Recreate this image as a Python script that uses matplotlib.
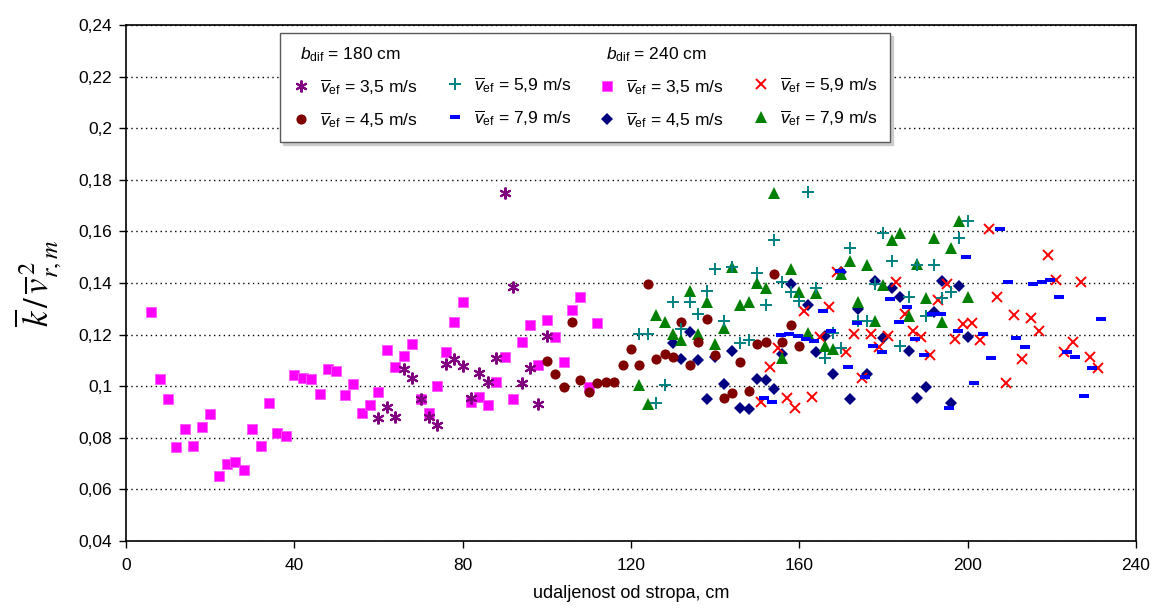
import matplotlib
matplotlib.use("Agg")
import matplotlib.pyplot as plt
import matplotlib.transforms as mtransforms
from matplotlib.lines import Line2D
from matplotlib.path import Path

plt.rcParams['font.family'] = ['Liberation Sans', 'DejaVu Sans']
plt.rcParams['mathtext.fontset'] = 'custom'
plt.rcParams['mathtext.rm'] = 'Liberation Sans'
plt.rcParams['mathtext.it'] = 'Liberation Sans:italic'
plt.rcParams['mathtext.bf'] = 'Liberation Sans:bold'

# ---- data: b_dif = 180 cm ----
x_180_35 = [60, 62, 64, 66, 68, 70, 72, 74, 76, 78, 80, 82, 84, 86, 88, 90, 92, 94, 96, 98, 100]
y_180_35 = [0.0875, 0.0918, 0.0879, 0.1066, 0.1033, 0.0950, 0.0879, 0.0850, 0.1086, 0.1105, 0.1080,
            0.0953, 0.1051, 0.1015, 0.1108, 0.1750, 0.1383, 0.1014, 0.1069, 0.0930, 0.1196]

x_180_45 = [100, 102, 104, 106, 108, 110, 112, 114, 116, 118, 120, 122, 124, 126, 128, 130,
            132, 134, 136, 138, 140, 142, 144, 146, 148, 150, 152, 154, 156, 158, 160]
y_180_45 = [0.1099, 0.1047, 0.0998, 0.1247, 0.1024, 0.0976, 0.1014, 0.1017, 0.1015, 0.1081, 0.1143,
            0.1083, 0.1395, 0.1104, 0.1126, 0.1115, 0.1250, 0.1082, 0.1170, 0.1260, 0.1121, 0.0953,
            0.0975, 0.1093, 0.0980, 0.1162, 0.1171, 0.1434, 0.1172, 0.1238, 0.1156]

x_180_59 = [122, 124, 126, 128, 130, 132, 134, 136, 138, 140, 142, 144, 146, 148, 150, 152, 154, 156,
            158, 160, 162, 164, 166, 168, 170, 172, 174, 176, 178, 180, 182, 184, 186, 188, 190, 192,
            194, 196, 198, 200]
y_180_59 = [0.1202, 0.1202, 0.0934, 0.1006, 0.1325, 0.1223, 0.1325, 0.1279, 0.1370, 0.1453, 0.1253,
            0.1461, 0.1166, 0.1179, 0.1440, 0.1316, 0.1568, 0.1404, 0.1366, 0.1329, 0.1753, 0.1379,
            0.1108, 0.1207, 0.1147, 0.1536, 0.1254, 0.1254, 0.1397, 0.1593, 0.1485, 0.1157, 0.1347,
            0.1470, 0.1273, 0.1469, 0.1342, 0.1366, 0.1573, 0.1641]

x_180_79 = [151.6, 153.6, 155.6, 157.6, 159.6, 161.6, 163.6, 165.6, 167.6, 169.6, 171.6, 173.6, 175.6,
            177.6, 179.6, 181.6, 183.6, 185.6, 187.6, 189.6, 191.6, 193.6, 195.6, 197.6, 199.6, 201.6,
            203.6, 205.6, 207.6, 209.6, 211.6, 213.6, 215.6, 217.6, 219.6, 221.6, 223.6, 225.6, 227.6,
            229.6, 231.6]
y_180_79 = [0.0956, 0.0938, 0.1197, 0.1201, 0.1193, 0.1182, 0.1175, 0.1293, 0.1214, 0.1447, 0.1076,
            0.1244, 0.1034, 0.1155, 0.1133, 0.1337, 0.1248, 0.1308, 0.1183, 0.1122, 0.1280, 0.1281,
            0.0917, 0.1213, 0.1502, 0.1012, 0.1202, 0.1109, 0.1608, 0.1403, 0.1186, 0.1151, 0.1396,
            0.1404, 0.1412, 0.1345, 0.1131, 0.1114, 0.0963, 0.1069, 0.1262]

# ---- data: b_dif = 240 cm ----
x_240_35 = [6, 8, 10, 12, 14, 16, 18, 20, 22, 24, 26, 28, 30, 32, 34, 36, 38, 40, 42, 44, 46, 48, 50,
            52, 54, 56, 58, 60, 62, 64, 66, 68, 70, 72, 74, 76, 78, 80, 82, 84, 86, 88, 90, 92, 94, 96,
            98, 100, 102, 104, 106, 108, 110, 112]
y_240_35 = [0.1288, 0.1029, 0.0950, 0.0763, 0.0835, 0.0768, 0.0843, 0.0892, 0.0650, 0.0700, 0.0706,
            0.0676, 0.0835, 0.0767, 0.0934, 0.0819, 0.0808, 0.1042, 0.1031, 0.1027, 0.0969, 0.1067,
            0.1059, 0.0965, 0.1010, 0.0896, 0.0927, 0.0979, 0.1140, 0.1076, 0.1118, 0.1164, 0.0952,
            0.0897, 0.1002, 0.1134, 0.1250, 0.1325, 0.0937, 0.0959, 0.0927, 0.1016, 0.1113, 0.0949,
            0.1170, 0.1236, 0.1081, 0.1255, 0.1192, 0.1095, 0.1294, 0.1345, 0.0998, 0.1245]

x_240_45 = [130, 132, 134, 136, 138, 140, 142, 144, 146, 148, 150, 152, 154, 156, 158, 162, 164, 166,
            168, 170, 172, 174, 176, 178, 180, 182, 184, 186, 188, 190, 192, 194, 196, 198, 200]
y_240_45 = [0.1166, 0.1107, 0.1209, 0.1103, 0.0952, 0.1114, 0.1007, 0.1136, 0.0914, 0.0910, 0.1027,
            0.1025, 0.0990, 0.1125, 0.1396, 0.1316, 0.1134, 0.1196, 0.1047, 0.1444, 0.0949, 0.1299,
            0.1048, 0.1406, 0.1186, 0.1382, 0.1347, 0.1138, 0.0956, 0.0998, 0.1286, 0.1408, 0.0935,
            0.1387, 0.1191]

x_240_59 = [151, 153, 155, 157, 159, 161, 163, 165, 167, 169, 171, 173, 175, 177, 179, 181, 183, 185,
            187, 189, 191, 193, 195, 197, 199, 201, 203, 205, 207, 209, 211, 213, 215, 217, 219, 221,
            223, 225, 227, 229, 231]
y_240_59 = [0.0938, 0.1073, 0.1147, 0.0954, 0.0916, 0.1293, 0.0960, 0.1190, 0.1308, 0.1444, 0.1133,
            0.1201, 0.1033, 0.1202, 0.1152, 0.1196, 0.1405, 0.1280, 0.1213, 0.1192, 0.1120, 0.1334,
            0.1396, 0.1183, 0.1241, 0.1244, 0.1179, 0.1608, 0.1346, 0.1012, 0.1275, 0.1107, 0.1263,
            0.1214, 0.1510, 0.1412, 0.1134, 0.1171, 0.1403, 0.1114, 0.1069]

x_240_79 = [122, 124, 126, 128, 130, 132, 134, 136, 138, 140, 142, 144, 146, 148, 150, 152, 154, 156,
            158, 160, 162, 164, 166, 168, 170, 172, 174, 176, 178, 180, 182, 184, 186, 188, 190, 192,
            194, 196, 198, 200]
y_240_79 = [0.1003, 0.0931, 0.1276, 0.1250, 0.1202, 0.1179, 0.1370, 0.1203, 0.1325, 0.1165, 0.1224,
            0.1461, 0.1315, 0.1325, 0.1401, 0.1381, 0.1750, 0.1109, 0.1453, 0.1366, 0.1207, 0.1363,
            0.1155, 0.1144, 0.1435, 0.1485, 0.1328, 0.1471, 0.1253, 0.1392, 0.1567, 0.1595, 0.1274,
            0.1472, 0.1342, 0.1574, 0.1250, 0.1536, 0.1641, 0.1347]

x_ticks = [0, 40, 80, 120, 160, 200, 240]
y_ticks = [0.04, 0.06, 0.08, 0.10, 0.12, 0.14, 0.16, 0.18, 0.20, 0.22, 0.24]
y_tick_labels = ['0,04', '0,06', '0,08', '0,1', '0,12', '0,14', '0,16', '0,18', '0,2', '0,22', '0,24']

vel = r'$\overline{v}_{\rm ef}$'
labels_180 = [vel + ' = 3,5 m/s', vel + ' = 4,5 m/s', vel + ' = 5,9 m/s', vel + ' = 7,9 m/s']
labels_240 = [vel + ' = 3,5 m/s', vel + ' = 4,5 m/s', vel + ' = 5,9 m/s', vel + ' = 7,9 m/s']

# small flat rectangle marker for the dash series
dash = Path([(-1, -0.45), (1, -0.45), (1, 0.45), (-1, 0.45), (-1, -0.45)],
            [Path.MOVETO, Path.LINETO, Path.LINETO, Path.LINETO, Path.CLOSEPOLY])

st_240_35 = dict(marker='s', color='#ff00ff', ms=7.0, mec='#ff55ff', mew=0.6)
st_240_45 = dict(marker='D', color='#000080', ms=6.2, mew=0)
st_240_59 = dict(marker='x', color='#ff0000', ms=7.5, mew=1.4)
st_240_79 = dict(marker='^', color='#008000', ms=8.2, mew=0)
st_180_35 = dict(marker=(6, 2, 0), color='#800080', ms=8.5, mew=1.5)
st_180_45 = dict(marker='o', color='#800000', ms=7.3, mew=0)
st_180_59 = dict(marker='+', color='#008080', ms=9.0, mew=1.4)
st_180_79 = dict(marker=dash, color='#0000ff', ms=7.5, mew=0)

fig = plt.figure(figsize=(11.58, 6.08), dpi=100)
ax = fig.add_axes([0.1088, 0.1102, 0.8722, 0.8487])

ax.plot(x_240_35, y_240_35, ls='none', zorder=3, **st_240_35)
ax.plot(x_240_45, y_240_45, ls='none', zorder=3, **st_240_45)
ax.plot(x_240_59, y_240_59, ls='none', zorder=3, **st_240_59)
ax.plot(x_240_79, y_240_79, ls='none', zorder=3, **st_240_79)
ax.plot(x_180_35, y_180_35, ls='none', zorder=4, **st_180_35)
ax.plot(x_180_45, y_180_45, ls='none', zorder=4, **st_180_45)
ax.plot(x_180_59, y_180_59, ls='none', zorder=4, **st_180_59)
ax.plot(x_180_79, y_180_79, ls='none', zorder=4, **st_180_79)

ax.set_xlim(0, 240)
ax.set_ylim(0.04, 0.24)
ax.set_xticks(x_ticks)
ax.set_xticklabels([str(t) for t in x_ticks])
ax.set_yticks(y_ticks)
ax.set_yticklabels(y_tick_labels)
ax.tick_params(labelsize=12.5, direction='out', length=5, width=1, colors='black')
ax.tick_params(axis='x', pad=7)
ax.tick_params(axis='y', pad=5)
ax.grid(axis='y', color='black', linestyle=(0, (1, 2.5)), linewidth=1)
ax.set_axisbelow(True)
for s in ax.spines.values():
    s.set_color('black')
    s.set_linewidth(1.2)

ax.set_xlabel('udaljenost od stropa, cm', fontsize=13, labelpad=9)
ax.set_ylabel(r'$\overline{k}\,/\,\overline{v}_{r,m}^{\,2}$', fontsize=25,
              math_fontfamily='stix', labelpad=10)

# legend: two groups of four with header rows
blank = Line2D([], [], ls='none')
def h(st):
    return Line2D([], [], ls='none', **st)
handles = [blank, h(st_180_35), h(st_180_45),
           blank, h(st_180_59), h(st_180_79),
           blank, h(st_240_35), h(st_240_45),
           blank, h(st_240_59), h(st_240_79)]
labels = [r'$b_{\rm dif}$ = 180 cm', labels_180[0], labels_180[1],
          '', labels_180[2], labels_180[3],
          r'$b_{\rm dif}$ = 240 cm', labels_240[0], labels_240[1],
          '', labels_240[2], labels_240[3]]
leg = ax.legend(handles, labels, ncol=4, loc='upper left', bbox_to_anchor=(0.1525, 0.985),
                borderaxespad=0, fontsize=12.5, handlelength=1.0, handletextpad=0.6,
                columnspacing=1.5, labelspacing=0.75, borderpad=0.7, frameon=True,
                fancybox=False, edgecolor='0.35', framealpha=1,
                shadow={'color': '0.8', 'alpha': 1})
leg.get_frame().set_linewidth(1.0)
leg.set_zorder(10)

# pull the two group headers left, over the marker column
for i in (0, 6):
    t = leg.get_texts()[i]
    t.set_transform(t.get_transform() + mtransforms.Affine2D().translate(-20, 0))

fig.savefig('out.png', dpi=100)
